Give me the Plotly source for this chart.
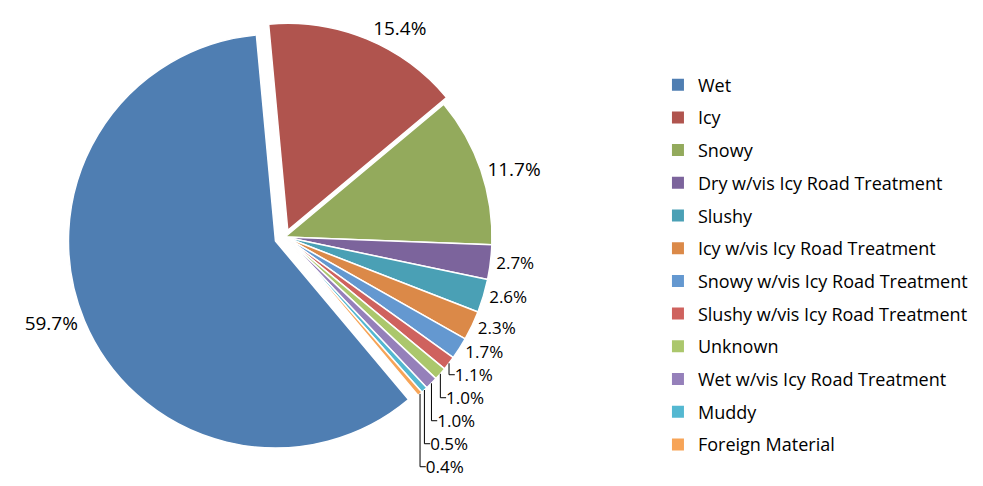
import plotly.graph_objects as go

categories = ["Wet", "Icy", "Snowy", "Dry w/vis Icy Road Treatment", "Slushy",
              "Icy w/vis Icy Road Treatment", "Snowy w/vis Icy Road Treatment",
              "Slushy w/vis Icy Road Treatment", "Unknown", "Wet w/vis Icy Road Treatment",
              "Muddy", "Foreign Material"]
values = [59.7, 15.4, 11.7, 2.7, 2.6, 2.3, 1.7, 1.1, 1.0, 1.0, 0.5, 0.4]
labels_text = ["59.7%", "15.4%", "11.7%", "2.7%", "2.6%", "2.3%", "1.7%", "1.1%",
               "1.0%", "1.0%", "0.5%", "0.4%"]
colors = ["#4F7EB2", "#B0544E", "#93AA5C", "#7C649C", "#4AA0B5", "#DB8948",
          "#6498D0", "#CF625E", "#ABC76C", "#9580BA", "#54B8D1", "#F7A457"]
pulls = [0.05, 0.035, 0, 0, 0, 0, 0, 0, 0, 0, 0, 0]
label_sizes = [19, 19, 19, 17, 17, 17, 17, 17, 17, 17, 17, 17]

FONT = "Open Sans"

fig = go.Figure()
fig.add_trace(go.Pie(
    labels=categories, values=values, text=labels_text,
    textinfo="text", texttemplate="%{text}", textposition="outside",
    sort=False, direction="clockwise", rotation=140,
    pull=pulls,
    marker=dict(colors=colors, line=dict(color="white", width=1.5)),
    outsidetextfont=dict(family=FONT, size=label_sizes, color="black"),
    showlegend=False, automargin=False,
    domain=dict(x=[0.0607, 0.5029], y=[0.0816, 0.9760]),
))

for i, (name, col) in enumerate(zip(categories, colors)):
    fig.add_trace(go.Scatter(
        x=[None], y=[None], mode="markers", name=name,
        marker=dict(symbol="square", size=12, color=col, line=dict(width=0)),
        legendgroup=f"g{i}", showlegend=True,
    ))

fig.update_layout(
    width=983, height=486,
    margin=dict(l=0, r=0, t=0, b=0, autoexpand=False),
    paper_bgcolor="white", plot_bgcolor="white",
    xaxis=dict(visible=False), yaxis=dict(visible=False),
    legend=dict(x=0.6612, y=0.8796, xanchor="left", yanchor="top",
                font=dict(family=FONT, size=18, color="black"),
                traceorder="grouped", tracegroupgap=6.3,
                bgcolor="rgba(0,0,0,0)"),
    font=dict(family=FONT),
)

fig.write_html("out.html")
